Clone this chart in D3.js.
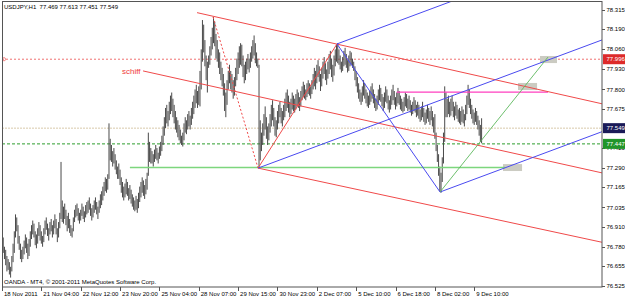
<!DOCTYPE html>
<html>
<head>
<meta charset="utf-8">
<script src="https://cdn.jsdelivr.net/npm/d3@7"></script>
<style>
  body { margin: 0; background: #fff; }
  svg { display: block; }
  text { font-family: "Liberation Sans", Arial, sans-serif; }
</style>
</head>
<body>
<svg id="chart" width="625" height="298"></svg>
<script>
var header = "USDJPY,H1  77.469 77.613 77.451 77.549";
var footer = "OANDA - MT4, \u00a9 2001-2011 MetaQuotes Software Corp.";

// hourly bars, high and low
var highs = [
  76.88,76.84,76.78,76.76,76.72,76.70,76.68,76.65,76.72,76.80,
  76.88,76.99,76.97,76.92,76.85,76.80,76.76,76.78,76.82,76.86,
  76.84,76.80,76.83,76.88,76.92,76.95,76.93,76.88,76.86,76.90,
  76.94,76.92,76.88,76.85,76.90,76.95,76.97,76.93,76.90,76.94,
  76.96,76.92,76.95,76.99,76.96,76.90,76.94,77.00,77.33,77.08,
  77.04,77.06,77.02,76.98,77.00,76.96,76.92,76.90,76.97,77.02,
  77.05,77.06,77.03,77.00,77.02,77.06,77.04,77.01,77.05,77.07,
  77.08,77.10,77.06,77.03,77.05,77.08,77.10,77.07,77.04,77.08,
  77.12,77.14,77.17,77.20,77.23,77.22,77.25,77.58,77.48,77.44,
  77.40,77.42,77.38,77.34,77.30,77.32,77.28,77.23,77.20,77.17,
  77.19,77.22,77.20,77.16,77.18,77.15,77.12,77.10,77.08,77.11,
  77.09,77.13,77.17,77.20,77.23,77.21,77.18,77.22,77.26,77.52,
  77.46,77.42,77.40,77.38,77.41,77.44,77.42,77.39,77.43,77.46,
  77.50,77.56,77.62,77.68,77.70,77.66,77.72,77.76,77.78,77.74,
  77.70,77.66,77.62,77.60,77.57,77.54,77.50,77.52,77.58,77.62,
  77.60,77.64,77.66,77.63,77.68,77.72,77.76,77.80,77.83,77.79,
  77.82,77.92,78.06,78.25,78.22,78.12,78.02,77.98,78.02,78.08,
  78.14,78.20,78.27,78.24,78.16,78.12,78.06,78.04,77.98,77.94,
  77.90,77.84,77.78,77.86,77.92,77.96,77.92,77.90,77.86,77.88,
  77.94,78.00,78.04,78.08,78.10,78.09,78.02,77.96,77.98,78.00,
  78.03,78.00,78.04,78.08,78.12,78.15,78.10,78.04,78.00,77.96,
  77.60,77.52,77.58,77.64,77.69,77.62,77.56,77.58,77.64,77.70,
  77.73,77.68,77.62,77.60,77.66,77.70,77.72,77.68,77.66,77.70,
  77.74,77.78,77.80,77.76,77.72,77.74,77.78,77.76,77.74,77.77,
  77.80,77.78,77.75,77.79,77.82,77.85,77.83,77.80,77.84,77.86,
  77.84,77.82,77.86,77.90,77.94,77.92,77.96,77.99,77.95,77.90,
  77.94,77.98,78.01,77.97,77.93,77.98,78.03,78.05,78.00,77.96,
  78.02,78.06,78.09,78.10,78.06,78.02,77.98,78.01,78.05,78.07,
  78.03,77.99,78.02,78.05,78.04,78.00,77.98,77.95,77.92,77.88,
  77.84,77.80,77.78,77.82,77.86,77.84,77.80,77.78,77.76,77.79,
  77.82,77.84,77.80,77.77,77.74,77.76,77.80,77.83,77.81,77.77,
  77.75,77.78,77.82,77.80,77.76,77.73,77.76,77.80,77.83,77.79,
  77.75,77.78,77.81,77.79,77.76,77.74,77.72,77.75,77.78,77.77,
  77.74,77.76,77.73,77.70,77.72,77.75,77.73,77.70,77.72,77.70,
  77.67,77.69,77.72,77.68,77.65,77.67,77.70,77.68,77.66,77.69,
  77.66,77.62,77.64,77.52,77.44,77.38,77.30,77.26,77.36,77.52,
  77.82,77.78,77.74,77.76,77.72,77.74,77.76,77.72,77.69,77.72,
  77.70,77.67,77.68,77.66,77.69,77.67,77.64,77.70,77.76,77.83,
  77.80,77.74,77.70,77.67,77.65,77.68,77.66,77.63,77.60,77.57,
  77.613
];
var lows = [
  76.80,76.74,76.70,76.66,76.62,76.63,76.60,76.58,76.62,76.68,
  76.74,76.84,76.88,76.80,76.76,76.70,76.68,76.70,76.73,76.77,
  76.74,76.70,76.72,76.78,76.83,76.86,76.84,76.79,76.77,76.80,
  76.85,76.82,76.80,76.78,76.81,76.86,76.89,76.85,76.82,76.86,
  76.88,76.84,76.86,76.90,76.86,76.81,76.84,76.90,76.96,76.94,
  76.93,76.96,76.92,76.88,76.90,76.87,76.85,76.84,76.88,76.94,
  76.97,76.98,76.95,76.93,76.95,76.98,76.96,76.94,76.97,76.99,
  77.00,77.02,76.98,76.95,76.97,77.00,77.02,76.99,76.96,77.00,
  77.03,77.05,77.08,77.11,77.14,77.13,77.15,77.22,77.34,77.33,
  77.30,77.32,77.28,77.25,77.22,77.22,77.18,77.13,77.10,77.08,
  77.10,77.12,77.11,77.08,77.09,77.06,77.04,77.02,77.01,77.02,
  77.00,77.03,77.07,77.10,77.13,77.11,77.09,77.12,77.15,77.24,
  77.33,77.32,77.32,77.30,77.33,77.35,77.34,77.32,77.35,77.37,
  77.40,77.44,77.50,77.55,77.58,77.56,77.60,77.64,77.66,77.62,
  77.58,77.54,77.52,77.49,77.47,77.45,77.44,77.43,77.47,77.52,
  77.51,77.54,77.56,77.54,77.57,77.61,77.64,77.68,77.71,77.68,
  77.70,77.69,77.80,77.98,78.04,77.95,77.86,77.78,77.94,77.96,
  78.02,78.06,78.10,78.08,78.00,77.98,77.94,77.90,77.86,77.82,
  77.76,77.66,77.62,77.70,77.80,77.84,77.80,77.78,77.74,77.76,
  77.82,77.86,77.90,77.94,77.96,77.95,77.88,77.84,77.86,77.90,
  77.93,77.91,77.94,77.98,78.00,78.02,77.97,77.95,77.94,77.29,
  77.34,77.40,77.44,77.50,77.54,77.48,77.44,77.47,77.52,77.56,
  77.60,77.56,77.50,77.49,77.54,77.58,77.62,77.58,77.56,77.60,
  77.62,77.66,77.68,77.65,77.62,77.64,77.67,77.66,77.65,77.67,
  77.69,77.68,77.66,77.69,77.73,77.75,77.74,77.73,77.75,77.77,
  77.76,77.74,77.77,77.80,77.82,77.80,77.84,77.88,77.85,77.79,
  77.82,77.87,77.90,77.86,77.83,77.87,77.90,77.93,77.88,77.85,
  77.89,77.95,77.98,77.97,77.96,77.93,77.91,77.92,77.95,77.96,
  77.94,77.91,77.92,77.95,77.96,77.94,77.92,77.86,77.82,77.78,
  77.74,77.72,77.70,77.72,77.76,77.74,77.71,77.69,77.68,77.70,
  77.72,77.74,77.71,77.68,77.66,77.67,77.70,77.73,77.72,77.69,
  77.66,77.68,77.72,77.71,77.67,77.65,77.67,77.70,77.73,77.70,
  77.67,77.69,77.71,77.70,77.67,77.66,77.65,77.66,77.69,77.68,
  77.66,77.67,77.65,77.63,77.64,77.66,77.65,77.62,77.63,77.61,
  77.59,77.60,77.62,77.59,77.57,77.58,77.61,77.59,77.57,77.60,
  77.56,77.52,77.48,77.40,77.33,77.24,77.14,77.13,77.20,77.32,
  77.46,77.62,77.62,77.64,77.62,77.63,77.66,77.62,77.60,77.63,
  77.61,77.59,77.58,77.57,77.59,77.58,77.56,77.60,77.64,77.70,
  77.68,77.64,77.61,77.58,77.57,77.59,77.57,77.54,77.50,77.46,
  77.451
];

var timeTicks = [0, 32, 64, 96, 128, 160, 192, 224, 256, 288, 320, 352, 384];
var timeLabels = ["18 Nov 2011", "21 Nov 04:00", "22 Nov 12:00", "23 Nov 20:00", "25 Nov 04:00",
  "28 Nov 07:00", "29 Nov 15:00", "30 Nov 23:00", "2 Dec 07:00", "5 Dec 10:00",
  "6 Dec 18:00", "8 Dec 02:00", "9 Dec 10:00"];
var priceTicks = [78.315, 78.190, 78.060, 77.930, 77.800, 77.675, 77.420, 77.290,
  77.165, 77.035, 76.910, 76.780, 76.655, 76.525];

// horizontal price lines: alert, bid, level
var alertPrice = 77.996;
var bidPrice = 77.549;
var levelPrice = 77.447;

// horizontal segments [fromBar, toBar, price]
var greenSegment = [104, 409, 77.294];
var magentaSegment = [321, 444, 77.783];

// trend lines [bar1, price1, bar2, price2]
var redLines = [
  [158.6, 78.298, 487.9, 77.707],
  [114.7, 77.920, 487.9, 77.259],
  [208.2, 77.290, 487.9, 76.809],
  [208.2, 77.290, 272.4, 78.095]
];
var redDotted = [[171.6, 78.270, 208.2, 77.290]];
var blueLines = [
  [272.4, 78.095, 356.2, 77.135],
  [208.2, 77.290, 487.9, 78.121],
  [272.4, 78.095, 487.9, 78.735],
  [356.2, 77.135, 487.9, 77.526]
];
var greenLines = [[356.2, 77.135, 444, 78.010]];

// price label objects [bar1, bar2, priceTop, priceBottom]
var labelBoxes = [
  [437.5, 451.3, 78.017, 77.971],
  [419.6, 435.1, 77.842, 77.796],
  [407.4, 422.9, 77.316, 77.271]
];
var schiffLabel = [97.6, 77.900, "schiff"];

var svg = d3.select("#chart");
var plotL = 2, plotR = 602, plotT = 2, plotB = 287;

var x = d3.scaleLinear().domain([0, 487.9]).range([plotL, plotR]);
var y = d3.scaleLinear().domain([76.519, 78.367]).range([plotB, plotT]);

svg.append("rect").attr("width", 625).attr("height", 298).attr("fill", "#fff");

svg.append("clipPath").attr("id", "plot")
  .append("rect").attr("x", plotL).attr("y", plotT).attr("width", plotR - plotL).attr("height", plotB - plotT);

var plot = svg.append("g").attr("clip-path", "url(#plot)");

// horizontal lines
function hline(p, color, dash) {
  plot.append("line")
    .attr("x1", plotL).attr("x2", plotR)
    .attr("y1", y(p)).attr("y2", y(p))
    .attr("stroke", color).attr("stroke-width", 1)
    .attr("stroke-dasharray", dash);
}
hline(alertPrice, "#f07070", "2,2");
hline(bidPrice, "#d8c9aa", "2,1");
hline(levelPrice, "#2e9e2e", "3,2");
plot.append("circle").attr("cx", plotL + 2).attr("cy", y(alertPrice)).attr("r", 1.6)
  .attr("fill", "none").attr("stroke", "#f07070").attr("stroke-width", 0.8);

// bars
plot.append("g").selectAll("line")
  .data(highs)
  .join("line")
  .attr("x1", function (d, i) { return x(i); })
  .attr("x2", function (d, i) { return x(i); })
  .attr("y1", function (d) { return y(d); })
  .attr("y2", function (d, i) { return y(lows[i]); })
  .attr("stroke", "#4a4a4a")
  .attr("stroke-width", 1);

// gray price label boxes
plot.append("g").selectAll("rect")
  .data(labelBoxes)
  .join("rect")
  .attr("x", function (d) { return x(d[0]); })
  .attr("width", function (d) { return x(d[1]) - x(d[0]); })
  .attr("y", function (d) { return y(d[2]); })
  .attr("height", function (d) { return y(d[3]) - y(d[2]); })
  .attr("fill", "#cbcbc2");

// segments
[[greenSegment, "#7dd67d", 1.4], [magentaSegment, "#ff3fbf", 1.2]].forEach(function (s) {
  plot.append("line")
    .attr("x1", x(s[0][0])).attr("x2", x(s[0][1]))
    .attr("y1", y(s[0][2])).attr("y2", y(s[0][2]))
    .attr("stroke", s[1]).attr("stroke-width", s[2]);
});

function trend(list, color, width, dash) {
  plot.append("g").selectAll("line")
    .data(list)
    .join("line")
    .attr("x1", function (d) { return x(d[0]); })
    .attr("y1", function (d) { return y(d[1]); })
    .attr("x2", function (d) { return x(d[2]); })
    .attr("y2", function (d) { return y(d[3]); })
    .attr("stroke", color)
    .attr("stroke-width", width)
    .attr("stroke-dasharray", dash);
}
trend(redLines, "#f04a4a", 1, null);
trend(redDotted, "#f04a4a", 1, "2,2");
trend(blueLines, "#4a4af0", 1, null);
trend(greenLines, "#5cb85c", 0.9, null);

svg.append("text")
  .attr("x", x(schiffLabel[0])).attr("y", y(schiffLabel[1]))
  .attr("font-size", 8).attr("fill", "#f03a3a")
  .text(schiffLabel[2]);

// frame
svg.append("rect")
  .attr("x", plotL + 0.5).attr("y", plotT - 0.5)
  .attr("width", plotR - plotL - 0.5).attr("height", plotB - plotT + 0.5)
  .attr("fill", "none").attr("stroke", "#555");

// price axis
var yAxis = svg.append("g");
yAxis.selectAll("line").data(priceTicks).join("line")
  .attr("x1", plotR).attr("x2", plotR + 3)
  .attr("y1", function (d) { return Math.round(y(d)) + 0.5; })
  .attr("y2", function (d) { return Math.round(y(d)) + 0.5; })
  .attr("stroke", "#555");
yAxis.selectAll("text").data(priceTicks).join("text")
  .attr("x", plotR + 4.5).attr("y", function (d) { return y(d); })
  .attr("dy", "0.35em").attr("font-size", 6).attr("fill", "#000")
  .text(function (d) { return d.toFixed(3); });

// time axis
var xAxis = svg.append("g");
xAxis.selectAll("line").data(timeTicks).join("line")
  .attr("x1", function (d) { return Math.round(x(d)) + 0.5; })
  .attr("x2", function (d) { return Math.round(x(d)) + 0.5; })
  .attr("y1", plotB).attr("y2", plotB + 4)
  .attr("stroke", "#555");
xAxis.selectAll("text").data(timeTicks).join("text")
  .attr("x", function (d) { return x(d) + 2; }).attr("y", 295.5)
  .attr("font-size", 6).attr("fill", "#000")
  .text(function (d, i) { return timeLabels[i]; });

// price tags on the axis
[[alertPrice, "#dd2a2a"], [bidPrice, "#1a1a58"], [levelPrice, "#22952a"]].forEach(function (t) {
  var g = svg.append("g");
  g.append("rect")
    .attr("x", plotR + 1).attr("y", y(t[0]) - 5)
    .attr("width", 625 - plotR - 1).attr("height", 10)
    .attr("fill", t[1]);
  g.append("text")
    .attr("x", plotR + 4.5).attr("y", y(t[0])).attr("dy", "0.35em")
    .attr("font-size", 6).attr("fill", "#fff")
    .text(t[0].toFixed(3));
});

svg.append("text").attr("x", 4).attr("y", 8.6)
  .attr("font-size", 6).attr("fill", "#000")
  .attr("xml:space", "preserve").style("white-space", "pre")
  .text(header);

svg.append("text").attr("x", 4).attr("y", 284.3)
  .attr("font-size", 6).attr("fill", "#000")
  .text(footer);
</script>
</body>
</html>
